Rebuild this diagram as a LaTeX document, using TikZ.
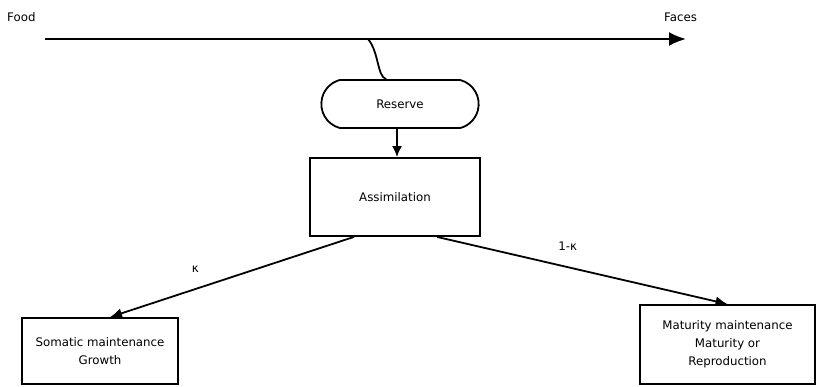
\documentclass[tikz,border=0pt]{standalone}
\usepackage{fontspec}
\setmainfont{DejaVu Sans}
\usetikzlibrary{positioning}
\usetikzlibrary{arrows.meta}
\usetikzlibrary{shapes.misc}
\tikzset{
	-Latex,
	every path/.style={line width=1.8pt},
	every node/.style={align=center,font=\fontsize{11.8}{18}\selectfont},
	box/.style={rectangle, draw, line width=1.8pt},
	pill/.style={rounded rectangle, rounded rectangle arc length=150, draw, line width=1.8pt},
	flow/.style={-{Latex[length=17pt,width=14pt]}, line width=2.2pt},
	el/.style={inner sep=2pt}
}

\begin{document}
\begin{tikzpicture}[x=1pt,y=-1pt]
	\useasboundingbox (0,0) rectangle (818,386);
	% Food stream
	\node (food) [anchor=west] at (3,17) {Food};
	\node (faces) [anchor=west] at (660,17) {Faces};
	\coordinate (in) at (45,39);
	\coordinate (out) at (686,39);
	\coordinate (tap) at (368,39);
	\draw[flow] (in) -- (out);
	
	\node (reserve) [pill, minimum width=164pt, minimum height=48pt] at (400,104) {Reserve};
	\node (assim) [box, minimum width=170pt, minimum height=78pt] at (395,197) {Assimilation};
	\node (somatic) [box, minimum width=156pt, minimum height=66pt] at (100,351) {Somatic maintenance\\Growth};
	\node (maturity) [box, minimum width=175pt, minimum height=79pt] at (727.5,344.5) {Maturity maintenance\\Maturity or\\Reproduction};
	
	\draw[-] (tap) .. controls (379,52) and (377,76) .. ([xshift=-14pt]reserve.north);
	\draw[-{Latex[length=11pt,width=10pt]}] ([xshift=-3pt]reserve.south) -- ([xshift=2pt]assim.north);
	\draw[-{Latex[length=12pt,width=10pt]}] ([xshift=-41pt]assim.south) -- node[el, pos=0.65, above=14pt] {κ} ([xshift=10pt]somatic.north);
	\draw[-{Latex[length=12pt,width=10pt]}] ([xshift=42pt]assim.south) -- node[el, pos=0.45, above=14pt] {1-κ} (maturity.north);
\end{tikzpicture}
\end{document}
